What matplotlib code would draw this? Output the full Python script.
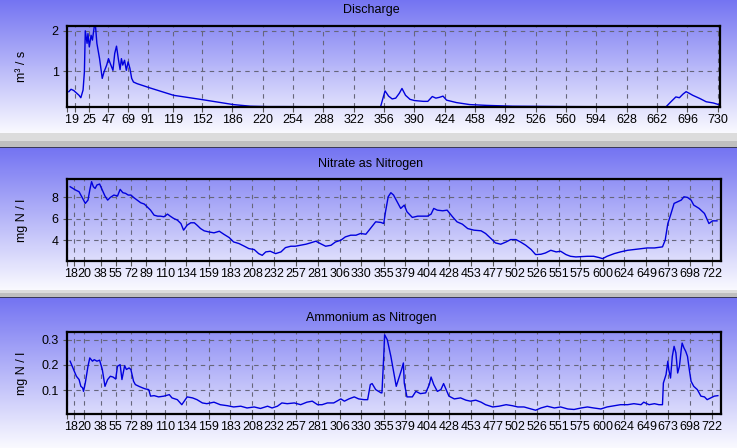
import matplotlib
matplotlib.use('Agg')
import matplotlib.pyplot as plt
import numpy as np
from matplotlib.patches import Rectangle

plt.rcParams['font.family'] = ['Liberation Sans Narrow', 'Liberation Sans', 'DejaVu Sans']

# Discharge (m3/s) by day
q_day = [2.5, 5, 8, 14, 16, 18.5, 20, 21, 23, 24, 25.5, 27.5, 29, 31, 32.5, 34, 37, 40, 42, 45,
         47, 49, 52, 54, 56, 58, 60, 61.5, 63, 65, 67, 69, 71, 73, 75, 79, 94, 120, 150, 187,
         206, 225, 240, 300, 352,
         357, 361, 365, 369, 373, 376, 380, 385, 390, 400, 405, 410, 414, 418, 422, 426, 437, 452, 471, 500,
         560, 620, 672, 677.5, 683, 687, 691, 694.5, 698, 702, 710, 717, 725, 731]
q_val = [0.49, 0.55, 0.52, 0.40, 0.34, 0.53, 0.98, 2.00, 1.69, 1.93, 1.60, 1.89, 1.77, 2.10, 2.10, 1.69, 1.31, 0.82, 0.98, 1.15,
         1.31, 1.19, 1.02, 1.44, 1.62, 1.31, 1.04, 1.31, 1.15, 1.27, 1.02, 1.23, 1.07, 0.82, 0.73, 0.69, 0.58, 0.40, 0.30, 0.17,
         0.13, 0.12, 0.12, 0.115, 0.115,
         0.51, 0.38, 0.31, 0.33, 0.45, 0.57, 0.40, 0.30, 0.27, 0.25, 0.25, 0.37, 0.33, 0.35, 0.38, 0.28, 0.22, 0.17, 0.15, 0.13,
         0.12, 0.115, 0.115, 0.24, 0.36, 0.34, 0.43, 0.49, 0.45, 0.40, 0.32, 0.24, 0.21, 0.17]
q_ticks = [1, 9, 25, 47, 69, 91, 119, 152, 186, 220, 254, 288, 322, 356, 390, 424, 458, 492,
           526, 560, 594, 628, 662, 696, 730]

# Nitrate as nitrogen (mg N / l)
no3_day = [4, 10, 14, 18, 21, 24, 26, 28, 30, 32, 34, 37, 40, 43, 46, 49, 53, 57, 60, 63,
           66, 69, 72, 75, 79, 83, 87, 90, 94, 98, 102, 105, 109, 113, 116, 120, 124, 128, 131, 135,
           139, 143, 146, 150, 154, 159, 165, 171, 176, 182, 187, 193, 199, 204, 210, 215, 219, 223, 228, 234,
           240, 245, 251, 256, 262, 268, 273, 279, 284, 290, 296, 301, 307, 312, 318, 324, 329, 335, 340, 346,
           352, 355, 357, 360, 363, 366, 370, 374, 378, 381, 387, 393, 398, 404, 408, 411, 415, 421, 426, 432,
           437, 443, 449, 456, 464, 469, 475, 480, 486, 492, 497, 503, 508, 514, 520, 525, 531, 536, 542, 548,
           553, 559, 564, 570, 576, 583, 590, 596, 600, 605, 613, 620, 628, 635, 643, 650, 658, 667, 670, 673,
           676, 680, 684, 688, 691, 695, 699, 702, 708, 714, 719, 723, 728]
no3_val = [9.0, 8.69, 8.53, 7.91, 7.44, 7.75, 8.69, 9.47, 9.0, 8.84, 9.16, 9.25, 8.69, 8.13, 7.75, 8.0, 8.22, 8.13, 8.75, 8.44,
           8.38, 8.22, 8.22, 8.0, 7.75, 7.5, 7.38, 7.13, 6.81, 6.34, 6.25, 6.25, 6.19, 6.44, 6.25, 6.03, 5.88, 5.56, 4.94, 5.41,
           5.63, 5.63, 5.41, 5.09, 4.88, 4.78, 4.69, 4.84, 4.56, 4.25, 3.84, 3.69, 3.44, 3.22, 3.13, 2.75, 2.59, 2.91, 2.97, 2.75,
           2.91, 3.31, 3.44, 3.44, 3.53, 3.63, 3.75, 3.91, 3.69, 3.44, 3.53, 3.84, 4.0, 4.31, 4.47, 4.47, 4.63, 4.56, 5.09, 5.72,
           5.66, 5.56, 6.66, 8.06, 8.44, 8.22, 7.59, 6.97, 7.28, 6.66, 6.13, 6.25, 6.25, 6.25, 6.44, 6.97, 6.81, 6.75, 6.81, 6.19,
           5.72, 5.5, 5.09, 4.94, 4.88, 4.63, 4.16, 3.75, 3.63, 3.84, 4.06, 4.06, 3.84, 3.53, 3.13, 2.66, 2.69, 2.81, 3.06, 2.91,
           2.97, 2.66, 2.5, 2.44, 2.47, 2.5, 2.5, 2.38, 2.28, 2.5, 2.75, 2.91, 3.06, 3.13, 3.22, 3.28, 3.28, 3.38, 4.0, 5.56,
           6.34, 7.44, 7.59, 7.75, 8.06, 8.0, 7.75, 7.28, 6.97, 6.5, 5.56, 5.81, 5.81]

# Ammonium as nitrogen (mg N / l)
nh4_day = [4, 8, 11, 14, 16, 18, 19, 21, 24, 26, 29, 31, 34, 37, 40, 43, 46, 49, 52, 55,
           57, 60, 62, 65, 67, 70, 72, 75, 77, 81, 85, 88, 92, 94, 98, 103, 109, 115, 118, 124,
           129, 135, 141, 146, 152, 157, 165, 172, 180, 187, 195, 202, 210, 217, 225, 230, 236, 241, 247, 255,
           262, 269, 275, 281, 286, 292, 299, 307, 311, 316, 322, 327, 333, 337, 340, 342, 346, 352,
           353, 355, 356, 359, 363, 366, 369, 372, 375, 377, 378, 381, 387, 391, 396, 402, 406, 408, 411, 415,
           419, 422, 424, 428, 434, 441, 447, 452, 458, 464, 469, 477, 484, 492, 499, 505, 512, 520, 525, 531,
           538, 546, 553, 561, 568, 576, 583, 590, 598, 605, 613, 620, 628, 635, 643, 646, 652, 658, 663, 667,
           668, 671, 673, 674, 676, 678, 680, 682, 684, 686, 688, 689, 691, 693, 695, 697, 699, 702, 706, 710,
           714, 717, 721, 725, 729]
nh4_val = [0.215, 0.181, 0.155, 0.142, 0.115, 0.109, 0.095, 0.129, 0.195, 0.228, 0.215, 0.221, 0.215, 0.219, 0.182, 0.115, 0.142, 0.155, 0.152, 0.144,
           0.195, 0.201, 0.142, 0.197, 0.182, 0.188, 0.182, 0.135, 0.122, 0.115, 0.109, 0.105, 0.102, 0.076, 0.078, 0.073, 0.076, 0.082, 0.069, 0.062,
           0.042, 0.073, 0.069, 0.062, 0.049, 0.046, 0.052, 0.042, 0.038, 0.033, 0.036, 0.029, 0.033, 0.027, 0.036, 0.029, 0.036, 0.049, 0.046, 0.049,
           0.042, 0.052, 0.056, 0.042, 0.042, 0.049, 0.049, 0.065, 0.056, 0.065, 0.073, 0.065, 0.062, 0.062, 0.122, 0.126, 0.102, 0.089,
           0.089, 0.234, 0.32, 0.30, 0.234, 0.175, 0.115, 0.148, 0.182, 0.208, 0.128, 0.073, 0.073, 0.095, 0.086, 0.089, 0.122, 0.152, 0.122, 0.095,
           0.102, 0.126, 0.109, 0.076, 0.065, 0.069, 0.060, 0.056, 0.060, 0.052, 0.042, 0.033, 0.036, 0.042, 0.038, 0.033, 0.033, 0.025, 0.020, 0.029,
           0.036, 0.029, 0.033, 0.025, 0.023, 0.029, 0.033, 0.029, 0.025, 0.033, 0.038, 0.042, 0.042, 0.046, 0.042, 0.052, 0.042, 0.046, 0.042, 0.042,
           0.128, 0.162, 0.215, 0.182, 0.148, 0.234, 0.274, 0.248, 0.168, 0.195, 0.261, 0.287, 0.268, 0.254, 0.234, 0.182, 0.135, 0.115, 0.102, 0.076,
           0.073, 0.062, 0.069, 0.076, 0.078]

wq_ticks = [1, 8, 20, 38, 55, 72, 89, 110, 134, 159, 183, 208, 232, 257, 281, 306, 330, 355, 379,
            404, 428, 453, 477, 502, 526, 551, 575, 600, 624, 649, 673, 698, 722]

W, H = 742, 448
TOP_BLUE = np.array([116, 116, 242]) / 255
LOW_WHITE = np.array([250, 250, 255]) / 255


def px_rect(left, top, right, bottom):
    return [left / W, 1 - bottom / H, (right - left) / W, (bottom - top) / H]


def draw_panel(fig, rect, days, vals, ticks, ylim, yticks, ylabels, title, title_y, ylabel):
    ax = fig.add_axes(px_rect(*rect))
    ax.set_facecolor('none')
    ax.plot(days, vals, color='#0000dd', lw=1.0)
    ax.set_xlim(0.5, 732.5)
    ax.set_ylim(*ylim)
    ax.set_xticks(ticks)
    ax.set_xticklabels([str(t) for t in ticks])
    ax.set_yticks(yticks)
    ax.set_yticklabels(ylabels)
    ax.grid(True, color='#66667a', linestyle=(0, (4, 4)), linewidth=0.8)
    for sp in ax.spines.values():
        sp.set_color('black')
        sp.set_linewidth(1.6)
    ax.tick_params(axis='x', direction='out', length=3.5, width=0.8, color='#555555',
                   pad=1.5, labelsize=9)
    ax.tick_params(axis='y', direction='out', length=3, width=0.8, color='#555555',
                   pad=3, labelsize=9)
    fig.text(371 / W, 1 - title_y / H, title, ha='center', va='center', fontsize=9)
    mid = (rect[1] + rect[3]) / 2
    fig.text(22 / W, 1 - mid / H, ylabel, ha='center', va='center', rotation=90, fontsize=9)
    return ax


def main():
    fig = plt.figure(figsize=(W / 100, H / 100), dpi=100)
    fig.patch.set_facecolor('white')

    # gradient panels and the grey separators between them
    bg = fig.add_axes([0, 0, 1, 1], zorder=-1)
    grad = np.linspace(0, 1, 256)[:, None, None]
    img = TOP_BLUE * (1 - grad) + LOW_WHITE * grad
    for top, bottom in [(0, 133), (148, 290), (298, 448)]:
        bg.imshow(img, extent=(0, 737, bottom, top), aspect='auto', interpolation='bilinear')
    for top, bottom, col in [(133, 141, '#dcdcdc'), (141, 147, '#bfbfbf'), (147, 148, '#3a3a5a'),
                             (290, 293, '#dcdcdc'), (293, 297, '#bfbfbf'), (297, 298, '#3a3a5a')]:
        bg.add_patch(Rectangle((0, top), 737, bottom - top, color=col, lw=0))
    bg.set_xlim(0, W)
    bg.set_ylim(H, 0)
    bg.axis('off')

    draw_panel(fig, (67, 26, 720, 107), q_day, q_val, q_ticks, (0.11, 2.12),
               [1, 2], ['1', '2'], 'Discharge', 10, 'm³ / s')
    draw_panel(fig, (67, 179, 721, 261), no3_day, no3_val, wq_ticks, (2.06, 9.72),
               [4, 6, 8], ['4', '6', '8'], 'Nitrate as Nitrogen', 164, 'mg N / l')
    draw_panel(fig, (67, 332, 721, 414), nh4_day, nh4_val, wq_ticks, (0.005, 0.331),
               [0.1, 0.2, 0.3], ['0.1', '0.2', '0.3'], 'Ammonium as Nitrogen', 318, 'mg N / l')

    fig.savefig('out.png', dpi=100)


if __name__ == '__main__':
    main()
